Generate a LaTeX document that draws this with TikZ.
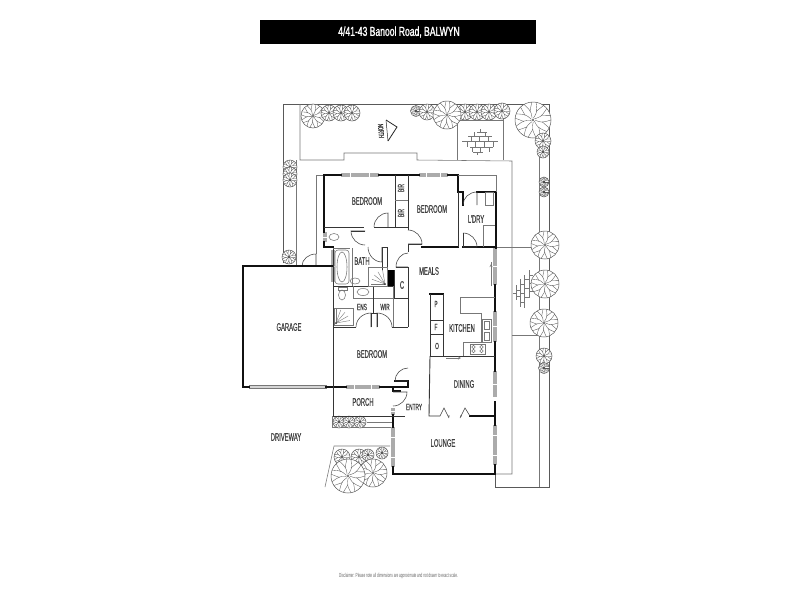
\documentclass[tikz,border=0pt]{standalone}
\usepackage{fontspec}
\setmainfont[FakeStretch=0.53,FakeBold=0.2]{Liberation Sans}
\newfontfamily\titlefont[FakeStretch=0.66,FakeBold=1.2]{Liberation Sans}
\newfontfamily\notefont[FakeStretch=0.53]{Liberation Sans}
\usetikzlibrary{calc}
\definecolor{wallc}{HTML}{111111}
\definecolor{thinc}{HTML}{777777}
\definecolor{winc}{HTML}{ABABAB}
\tikzset{
  wall/.style={line width=1.7pt,draw=wallc,line cap=rect},
  midwall/.style={line width=0.9pt,draw=wallc!85!white},
  thin/.style={line width=0.55pt,draw=thinc},
  fine/.style={line width=0.4pt,draw=thinc},
  site/.style={line width=0.7pt,draw=black!65},
  lab/.style={font=\fontsize{11}{11}\selectfont,text=black!75,inner sep=0pt},
  smalllab/.style={font=\fontsize{9}{9}\selectfont,text=black!75,inner sep=0pt},
  treeline/.style={line width=0.35pt,draw=black!65},
}
\newcommand\plant[3]{%
  \begin{scope}[shift={(#1,#2)}]
    \fill[white] (0,0) circle[radius=#3];
    \foreach \a in {0,40,...,320}{
      \draw[treeline] (\a:0.1*#3) .. controls (\a+18:0.5*#3) .. (\a:#3);
      \draw[treeline] (\a+10:0.5*#3) -- (\a+26:#3);
    }
    \draw[treeline,line width=0.5pt] (0,0) circle[radius=#3];
    \fill[black] (0,0) circle[radius=0.9];
  \end{scope}}
\newcommand\doorswing[3]{%
  \draw[thin,draw=black!75] (#1) -- (#2) .. controls ($(#2)+0.55*(#3)-0.55*(#1)$) and ($(#3)+0.55*(#2)-0.55*(#1)$) .. (#3);}
\newcommand\winH[3]{%
  \fill[winc] (#1,#3-2) rectangle (#2,#3+2);
  \draw[white,line width=0.3pt] ({(#1+#2)/2},#3-2) -- ({(#1+#2)/2},#3+2);}
\newcommand\winV[3]{%
  \fill[winc] (#3-2,#1) rectangle (#3+2,#2);
  \draw[white,line width=0.3pt] (#3-2,{(#1+#2)/2}) -- (#3+2,{(#1+#2)/2});}
\begin{document}
\begin{tikzpicture}[x=1pt,y=-1pt]
\useasboundingbox (0,0) rectangle (800,600);
\fill[white] (0,0) rectangle (800,600);
% title
\fill[black] (260,20) rectangle (536,44);
\node[font=\titlefont\fontsize{13}{13}\selectfont,text=white,inner sep=0pt] (title) at (399,32) {4/41-43 Banool Road, BALWYN};
% site lines
\draw[site] (283,263) -- (283,104) -- (549,104) -- (549,487) -- (495,487) -- (495,474);
\draw[thin] (300,104) -- (300,160) -- (344,160) -- (344,153) -- (417,153) -- (417,160) -- (512,161) -- (512,474) -- (495,474);
\draw[thin] (296,160) -- (296,266);
\draw[thin] (316,254) -- (316,175) -- (325,175);
\draw[thin] (457,120) -- (457,160);
\draw[thin] (457,120) -- (503,120) -- (503,160);
\draw[thin] (503,120) -- (503,104);
\draw[thin] (539,145) -- (539,487);
\draw[thin] (512,247) -- (539,247);
\draw[thin] (512,335) -- (539,335);
\draw[thin] (496,247) -- (512,247);
\doorswing{316,266}{316,254}{302,266}
% paving, upper patch
\draw[fine] (477,132) -- (487,132) (468,136) -- (492,136) (462,141) -- (498,141) (470,147) -- (493,147) (473,152) -- (483,152);
\draw[fine] (480,129) -- (480,132) (485,132) -- (485,136) (474,132) -- (474,136) (471,136) -- (471,141) (479,136) -- (479,141) (488,136) -- (488,141) (467,141) -- (467,147) (475,141) -- (475,147) (484,141) -- (484,147) (493,141) -- (493,147) (472,147) -- (472,152) (480,147) -- (480,152) (489,147) -- (489,152) (477,152) -- (477,155);
% paving, lower patch
\draw[fine] (516,285) -- (516,300) (520,279) -- (520,307) (524,275) -- (524,308) (529,270) -- (529,298);
\draw[fine] (516,290) -- (520,290) (516,296) -- (520,296) (520,284) -- (524,284) (520,293) -- (524,293) (520,302) -- (524,302) (524,279) -- (529,279) (524,288) -- (529,288) (524,297) -- (529,297) (529,275) -- (533,275) (529,283) -- (533,283) (529,291) -- (533,291) (513,293) -- (516,293);
% garden bed
\draw[thin] (325,487) -- (334,446) -- (390,446);
\draw[thin] (332,416) rectangle (392,427);
\draw[thin] (367,422) -- (392,422);
% trees
\plant{313}{116}{12}
\plant{329}{113}{8}\plant{341}{113}{8}\plant{352}{113}{8}
\plant{416}{111}{5.5}\plant{427}{112}{8}\plant{465}{112}{8}\plant{477}{112}{8}\plant{489}{112}{8}\plant{502}{111}{8}\plant{447}{115}{14}
\plant{533}{120}{18}\plant{543}{141}{8}\plant{543}{152}{6}
\plant{544}{182}{5}\plant{544}{192}{5}
\plant{545}{245}{14}\plant{545}{284}{14}\plant{544}{323}{14}\plant{544}{356}{8}\plant{544}{368}{5.5}
\plant{290}{167}{7}\plant{290}{174}{7}\plant{290}{180}{7}\plant{289}{257}{7}
\plant{339}{422}{6}\plant{349}{422}{6}\plant{360}{422}{6}
\plant{342}{457}{8}\plant{359}{457}{8}\plant{368}{455}{6}\plant{382}{453}{6}
\plant{373}{473}{14}\plant{348}{476}{17}
% north
\draw[thin,draw=black!85,line width=0.8pt] (386,120) -- (397,127) -- (388,141);
\draw[thin,draw=black!85,line width=0.5pt] (386,120) -- (388,141);
\node[font=\fontsize{7.5}{7.5}\selectfont,text=black!80,inner sep=0pt,rotate=-85] (north) at (381,131) {NORTH};
% windows
\winH{341}{360}{175}\winH{360}{379}{175}\winH{419}{433}{175}\winH{433}{448}{175}
\winV{232}{242}{325}\winV{250}{282}{333}
\winV{248}{285}{495}\winV{311}{342}{495}\winV{371}{397}{495}\winV{425}{445}{495}\winV{445}{465}{495}
\winV{427}{447}{393}\winV{447}{467}{393}\winV{408}{415}{393}
\winH{346}{363}{387}\winH{363}{380}{387}
\fill[winc!50] (249,385.5) rectangle (326,388.5);
\draw[fine] (249,385.5) rectangle (326,388.5);
% thick walls
\draw[wall] (341,175) -- (324,175) -- (324,232);
\draw[wall] (324,242) -- (324,247) -- (333,247);
\draw[wall] (379,175) -- (419,175);
\draw[wall] (448,175) -- (458,175) -- (458,192) -- (463,192) -- (463,205);
\draw[wall] (477,192) -- (496,192) -- (496,248);
\draw[wall] (496,247) -- (463,247);
\draw[wall] (458,247) -- (422,247);
\draw[wall] (243,387) -- (243,266) -- (333,266);
\draw[wall] (243,387) -- (249,387);
\draw[wall] (326,387) -- (346,387);
\draw[wall] (380,387) -- (408,387) -- (408,381) -- (395,381);
\draw[wall] (393,387) -- (393,391) -- (400,391);
\draw[wall] (393,415) -- (393,427);
\draw[wall] (393,467) -- (393,474) -- (495,474) -- (495,465);
\draw[wall] (495,425) -- (495,402);
\draw[wall] (495,371) -- (495,342);
\draw[wall] (495,311) -- (495,285);
\draw[wall] (470,416) -- (495,416);
\draw[wall,line width=1.2pt] (430,294) -- (443,294);
\fill[black] (387,270) rectangle (394,287);
% interior walls
\draw[midwall] (324,227) -- (364,227);
\draw[midwall] (395,175) -- (395,227);
\draw[midwall] (408,175) -- (408,230);
\draw[thin] (395,200) -- (408,200);
\draw[midwall] (374,227) -- (408,227);
\draw[midwall] (458,192) -- (458,247);
\draw[midwall] (463,233) -- (463,247);
\draw[thin] (458,175) -- (496,175) -- (496,192);
\draw[midwall] (408,244) -- (408,252);
\draw[midwall] (396,267) -- (408,267) -- (408,327);
\draw[midwall] (408,244) -- (422,244) ;
\draw[midwall] (382,247) -- (382,270);
\draw[midwall] (387,247) -- (387,270);
\draw[midwall] (382,247) -- (387,247);
\draw[midwall] (394,270) -- (394,298) -- (408,298);
\draw[midwall] (333,248) -- (333,416) -- (393,416);
\draw[thin] (333,248) -- (350,248);
\draw[thin] (352,248) -- (352,286);
\draw[midwall] (333,286) -- (394,286);
\draw[thin] (353,286) -- (353,298) -- (394,298);
\draw[midwall] (373,286) -- (373,313) ;
\draw[midwall] (371,313) -- (371,327);
\draw[midwall] (377,313) -- (377,327);
\draw[midwall] (371,313) -- (377,313);
\draw[thin] (393,286) -- (393,327);
\draw[midwall] (333,327) -- (356,327);
\draw[midwall] (392,327) -- (408,327);
% doors
\doorswing{365,231}{351,231}{365,245}
\draw[midwall] (351,231) -- (365,231);
\doorswing{388,227}{388,213}{374,227}
\doorswing{408,244}{422,244}{408,230}
\doorswing{408,267}{396,267}{408,253}
\doorswing{382,247}{382,262}{368,247}
\doorswing{463,247}{477,247}{463,233}
\doorswing{477,205}{477,192}{463,205}
\doorswing{371,327}{371,313}{356,327}
\doorswing{377,327}{377,313}{392,327}
\doorswing{408,381}{395,381}{408,368}
\doorswing{393,392}{407,392}{393,406}
% fittings: toilets, basins, bath, shower
\draw[thin] (334,237) ellipse[x radius=5,y radius=3.5];
\draw[thin] (342,295) ellipse[x radius=3.5,y radius=5];
\draw[thin] (338,287) rectangle (347,290);
\draw[thin,rounded corners=3pt] (335,250) rectangle (349,284);
\draw[thin] (342,267) ellipse[x radius=5,y radius=15];
\draw[thin] (355,281) ellipse[x radius=5,y radius=3];
\draw[thin] (363,292) ellipse[x radius=6,y radius=3.5];
% showers
\draw[thin] (368,267) rectangle (387,286);
\foreach \a in {0,20,...,80}{\draw[fine] (385,284) -- ++({180+\a}:14);}
\fill[black!80] (385,284) circle[radius=1];
\draw[thin] (334,308) rectangle (353,325);
\foreach \a in {0,20,...,80}{\draw[fine] (336,323) -- ++({\a-90}:14);}
\fill[black!80] (336,323) circle[radius=1];
% laundry
\draw[thin] (485,192) rectangle (493,205);
\draw[thin] (483,247) -- (483,225) -- (495,225);
% meals slider arrow
\draw[thin] (491,286) -- (491,262);
\draw[fine,-stealth] (491,270) -- (491,264);
% kitchen
\draw[midwall] (430,356) -- (430,294);
\draw[midwall] (443,294) -- (443,356);
\draw[midwall] (430,320) -- (443,320);
\draw[midwall] (430,334) -- (443,334);
\draw[midwall] (430,356) -- (495,356);
\draw[midwall] (430,356) -- (429,416) -- (440,416);
\draw[thin] (495,297) -- (460,297) -- (460,313) -- (481,313) -- (481,342) -- (463,342) -- (463,356);
\draw[thin] (482,319) rectangle (491,342);
\draw[thin] (484,321) rectangle (489,329);
\draw[thin] (484,332) rectangle (489,340);
\draw[thin] (470,344) rectangle (485,354);
\foreach \p/\q in {473.5/347,481.5/347,473.5/351,481.5/351}{\draw[thin] (\p,\q) circle[radius=1.8];}
\draw[fine,-stealth] (446,358) -- (461,358);
% lounge wall and bifold doors
\draw[midwall] (393,416) -- (405,416);
\draw[thin,draw=black!75] (440,416) -- (444,408) -- (449,418);
\draw[thin,draw=black!75] (460,418) -- (465,408) -- (470,416);
\fill[black] (449,416) circle[radius=0.7];
\fill[black] (461,416) circle[radius=0.7];
% labels
\node[lab] (l1) at (367,201) {BEDROOM};
\node[lab] (l2) at (432,209) {BEDROOM};
\node[smalllab,rotate=90] (l3) at (401,188) {BIR};
\node[smalllab,rotate=90] (l4) at (401,213) {BIR};
\node[lab] (l5) at (476,219) {L'DRY};
\node[lab] (l6) at (362,261) {BATH};
\node[lab] (l7) at (429,271) {MEALS};
\node[lab] (l8) at (402,285) {C};
\node[smalllab] (l9) at (362,307) {ENS};
\node[smalllab] (l10) at (385,307) {WIR};
\node[lab] (l11) at (372,354) {BEDROOM};
\node[lab] (l12) at (289,327) {GARAGE};
\node[lab] (l13) at (462,328) {KITCHEN};
\node[smalllab] (l14) at (436,304) {P};
\node[smalllab] (l15) at (436,327) {F};
\node[smalllab] (l16) at (437,346) {O};
\node[lab] (l17) at (464,384) {DINING};
\node[lab] (l18) at (363,402) {PORCH};
\node[smalllab] (l19) at (414,407) {ENTRY};
\node[lab] (l20) at (443,443) {LOUNGE};
\node[lab] (l21) at (286,437) {DRIVEWAY};
\node[font=\notefont\fontsize{5.9}{5.9}\selectfont,text=black!60,inner sep=0pt] (disc) at (398.5,576) {Disclaimer: Please note all dimensions are approximate and not drawn to exact scale.};
\end{tikzpicture}
\end{document}
